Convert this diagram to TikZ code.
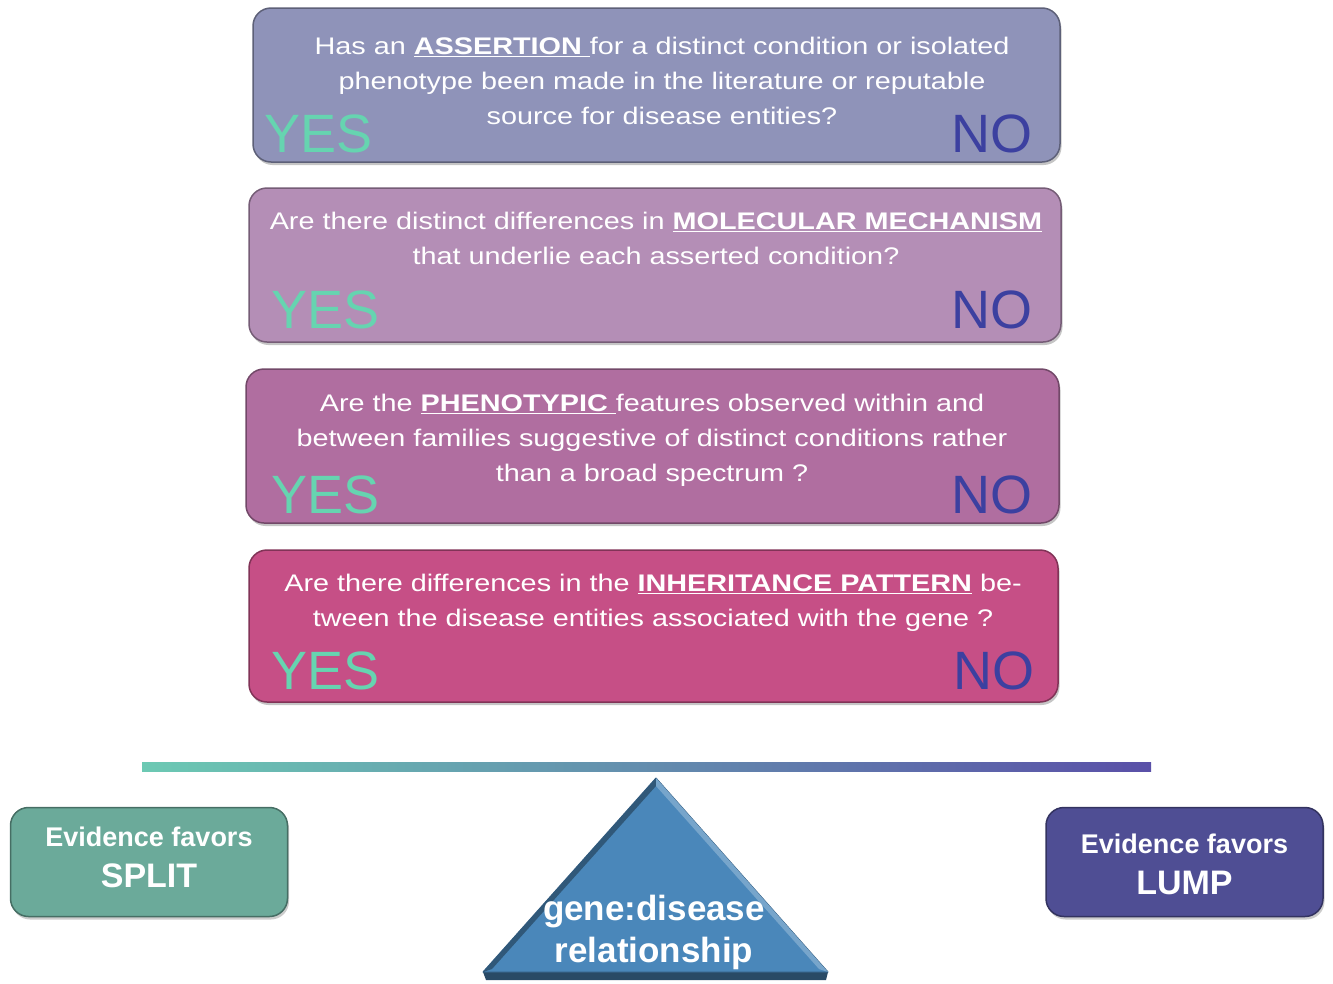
\documentclass[tikz,border=0pt]{standalone}
\usepackage{fontspec}
\setmainfont{Liberation Sans}
\newfontfamily\qfont[FakeStretch=1.2]{Liberation Sans}
\usetikzlibrary{shadows}
\definecolor{bxa}{HTML}{8F93B9}
\definecolor{bxb}{HTML}{B48EB6}
\definecolor{bxc}{HTML}{B06EA0}
\definecolor{bxd}{HTML}{C64F86}
\definecolor{yescol}{HTML}{66D4B0}
\definecolor{nocol}{HTML}{3C40A0}
\definecolor{barL}{HTML}{6CC9B3}
\definecolor{barR}{HTML}{5A50A8}
\definecolor{tricol}{HTML}{4A87BA}
\definecolor{splitcol}{HTML}{6BAA9A}
\definecolor{lumpcol}{HTML}{4F4E94}
\newcommand{\ul}[1]{\underline{\textbf{#1}}}
\begin{document}
\begin{tikzpicture}[x=1pt,y=-1pt,
  qbox/.style={rounded corners=18pt, draw=#1!65!black, line width=1.5pt, fill=#1,
     drop shadow={shadow xshift=1.5pt, shadow yshift=-3pt, fill=black!45}},
  qtext/.style={text=white, align=center, font=\qfont\fontsize{24}{35}\selectfont, inner sep=0pt},
  yeslbl/.style={text=yescol, font=\fontsize{54}{54}\selectfont, anchor=base west, inner sep=0pt},
  nolbl/.style={text=nocol, font=\fontsize{54}{54}\selectfont, anchor=base east, inner sep=0pt},
  ebox/.style={rounded corners=18pt, draw=#1!65!black, line width=1.5pt, fill=#1,
     drop shadow={shadow xshift=1.5pt, shadow yshift=-3pt, fill=black!40},
     minimum width=277pt, minimum height=109pt},
  etext/.style={text=white, align=center, inner sep=0pt,
     font=\bfseries\fontsize{27}{41}\selectfont}
]
\useasboundingbox (0,0) rectangle (1333,983);

% question boxes
\node[qbox=bxa, minimum width=807pt, minimum height=154pt] (b1) at (656.5,85) {};
\node[qtext] (t1) at (662,81) {Has an \ul{ASSERTION }for a distinct condition or isolated\\phenotype been made in the literature or reputable\\source for disease entities?};
\node[yeslbl] (y1) at (264,152) {YES};
\node[nolbl] (n1) at (1033,152) {NO};

\node[qbox=bxb, minimum width=812pt, minimum height=154pt] (b2) at (655,265) {};
\node[qtext] (t2) at (656,238.5) {Are there distinct differences in \ul{MOLECULAR MECHANISM}\\that underlie each asserted condition?};
\node[yeslbl] (y2) at (271,328) {YES};
\node[nolbl] (n2) at (1033,328) {NO};

\node[qbox=bxc, minimum width=813pt, minimum height=154pt] (b3) at (652.5,446) {};
\node[qtext] (t3) at (652,440) {Are the \ul{PHENOTYPIC }features observed within and\\between families suggestive of distinct conditions rather\\than a broad spectrum ?};
\node[yeslbl] (y3) at (271,513) {YES};
\node[nolbl] (n3) at (1033,513) {NO};

\node[qbox=bxd, minimum width=809pt, minimum height=152pt] (b4) at (653.5,626) {};
\node[qtext] (t4) at (653,602.5) {Are there differences in the \ul{INHERITANCE PATTERN} be-\\tween the disease entities associated with the gene ?};
\node[yeslbl] (y4) at (271,689) {YES};
\node[nolbl] (n4) at (1035,689) {NO};

% balance bar
\shade[left color=barL, right color=barR] (142,762) rectangle (1151,771);

% fulcrum triangle
\coordinate (apex) at (656,778);
\coordinate (bl) at (483,972);
\coordinate (br) at (828,972);
\fill[tricol!55!black] (bl) -- (br) -- (826,980) -- (486,980) -- cycle;
\filldraw[fill=tricol, draw=tricol!70!black, line width=1pt, line join=round] (apex) -- (br) -- (bl) -- cycle;
\fill[tricol!65!black] (apex) -- (bl) -- (492,969) -- (656,786) -- cycle;
\fill[tricol!75!white] (apex) -- (br) -- (819,969) -- (656,786) -- cycle;
\node[text=white, align=center, font=\bfseries\fontsize{35}{42}\selectfont, inner sep=0pt] (tri) at (654,932) {gene:disease\\relationship};

% outcome boxes
\node[ebox=splitcol] (split) at (149,862) {};
\node[etext] (splitt) at (149,857) {Evidence favors\\{\fontsize{34}{41}\selectfont SPLIT}};
\node[ebox=lumpcol] (lump) at (1184.5,862) {};
\node[etext] (lumpt) at (1184.5,864) {Evidence favors\\{\fontsize{34}{41}\selectfont LUMP}};
\end{tikzpicture}
\end{document}
